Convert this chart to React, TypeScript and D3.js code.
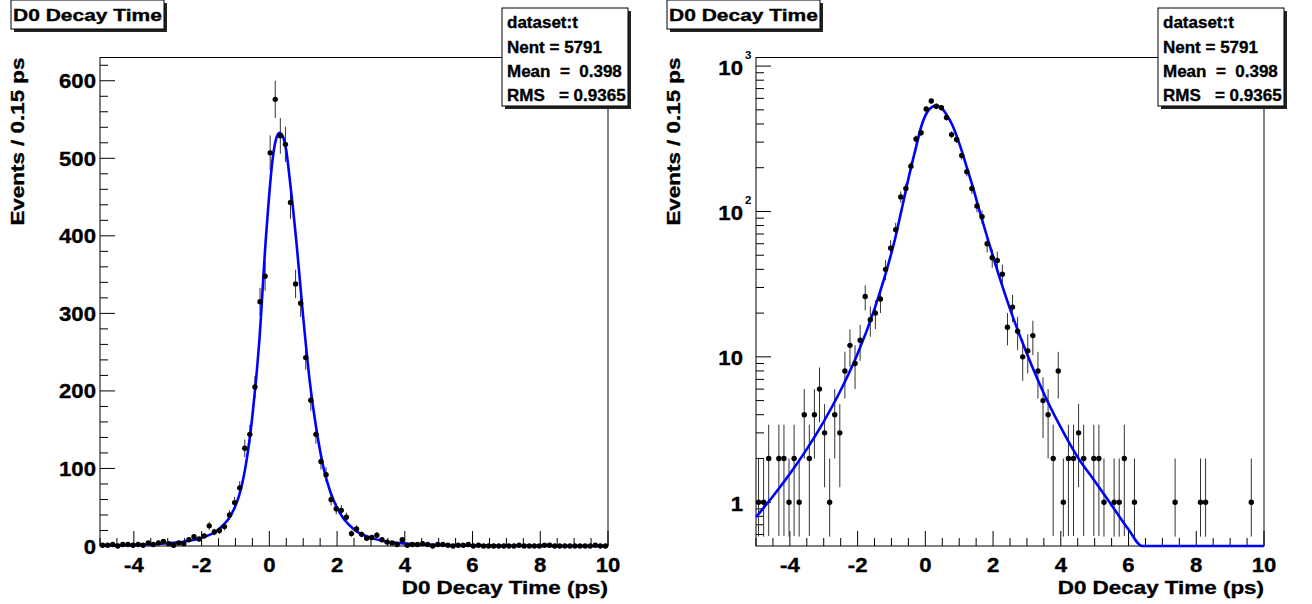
import React from 'react';
import * as d3 from 'd3';

// ---- data ----
const binLow = -5;
const binWidth = 0.15;
const counts = [
  1, 1, 2, 0, 2, 2, 1, 2, 1, 4,
  2, 4, 6, 3, 1, 4, 3, 8, 12, 9,
  13, 26, 18, 20, 25, 40, 56, 75, 126, 144,
  205, 315, 348, 507, 576, 529, 518, 443, 338, 313,
  243, 188, 144, 109, 92, 60, 48, 46, 37, 16,
  22, 15, 10, 11, 14, 8, 5, 4, 2, 8,
  1, 2, 2, 3, 2, 0, 2, 2, 1, 0,
  1, 1, 2, 0, 1, 0, 0, 0, 0, 0,
  0, 0, 1, 0, 0, 0, 0, 1, 1, 0,
  0, 0, 0, 0, 0, 0, 0, 1, 0, 0,
];

// fit curve samples
const fitX = [-5, -4.5, -4, -3.5, -3, -2.5, -2, -1.5, -1, -0.9, -0.7, -0.5, -0.3, -0.1, 0.1, 0.2, 0.3, 0.4, 0.5, 0.6, 0.8, 1.0, 1.2, 1.4, 1.6, 1.8, 2.0, 2.2, 2.5, 3.0, 3.5, 4.0, 4.5, 5.0, 5.5, 6.0, 6.4, 7, 8, 9, 10];
const fitY = [0.79, 1.10, 1.57, 2.32, 3.59, 5.89, 10.5, 21.4, 52, 64, 103, 168, 262, 398, 500, 525, 533, 528, 510, 474, 392, 295, 210, 148, 101, 70, 49, 34.7, 21.4, 10.5, 5.6, 3.27, 2.04, 1.4, 0.955, 0.65, 0.48, 0.31, 0.14, 0.067, 0.03];

const xMajorTicks = [-4, -2, 0, 2, 4, 6, 8, 10];
const linMajorTicks = [0, 100, 200, 300, 400, 500, 600];
const logMajorTicks = [1, 10, 100, 1000];

const titleText = 'D0 Decay Time';
const xTitle = 'D0 Decay Time (ps)';
const yTitle = 'Events / 0.15 ps';
const statsLines = ['dataset:t', 'Nent = 5791', 'Mean  =  0.398', 'RMS   = 0.9365'];

const FONT = "'Liberation Sans', Arial, Helvetica, sans-serif";

type PanelProps = { ox: number; log: boolean };

function Panel({ ox, log }: PanelProps) {
  const left = ox + 100;
  const right = ox + 608;
  const top = 57.5;
  const bottom = 546;

  const x = d3.scaleLinear().domain([-5, 10]).range([left, right]);
  const y: any = log
    ? d3.scaleLog().domain([0.5, 1146]).range([bottom, top])
    : d3.scaleLinear().domain([0, 630]).range([bottom, top]);
  const cy = (v: number) => y(Math.max(v, log ? 0.5 : 0));

  const bins = counts.map((c, i) => ({ xc: binLow + (i + 0.5) * binWidth, c }));
  const shown = log ? bins.filter((b) => b.c > 0) : bins;

  const fitPts = fitX.map((xv, i) => [xv, fitY[i]] as [number, number]);
  const line = d3
    .line<[number, number]>()
    .x((d) => x(d[0]))
    .y((d) => cy(d[1]))
    .curve(d3.curveMonotoneX);

  const xMinor = d3.range(-5, 10.001, 0.5).filter((v) => !xMajorTicks.some((m) => Math.abs(m - v) < 1e-6));

  let yMinor: number[] = [];
  if (log) {
    [0.1, 1, 10, 100].forEach((dec) => {
      for (let k = 2; k <= 9; k++) {
        const v = k * dec;
        if (v > 0.5 && v < 1146) yMinor.push(v);
      }
    });
  } else {
    yMinor = d3.range(20, 630, 20).filter((v) => v % 100 !== 0);
  }

  const tickLabelStyle = { fontFamily: FONT, fontWeight: 'bold' as const, fontSize: 20.5 };
  const thick = { stroke: 'black', strokeWidth: 0.35 };

  return (
    <g>
      {/* frame */}
      <rect x={left} y={top} width={right - left} height={bottom - top} fill="white" stroke="black" strokeWidth={1} />

      {/* x ticks */}
      {xMajorTicks.map((t) => (
        <line key={'xM' + t} x1={x(t)} x2={x(t)} y1={bottom} y2={bottom - 15} stroke="black" strokeWidth={1} />
      ))}
      {xMinor.map((t) => (
        <line key={'xm' + t} x1={x(t)} x2={x(t)} y1={bottom} y2={bottom - 8} stroke="black" strokeWidth={1} />
      ))}
      {xMajorTicks.map((t) => (
        <text
          key={'xl' + t}
          transform={`translate(${x(t)},572) scale(1.08,1)`}
          textAnchor="middle"
          style={tickLabelStyle}
          {...thick}
        >
          {String(t)}
        </text>
      ))}

      {/* y ticks */}
      {(log ? logMajorTicks : linMajorTicks).map((t) => (
        <line key={'yM' + t} x1={left} x2={left + 15} y1={y(t)} y2={y(t)} stroke="black" strokeWidth={1} />
      ))}
      {yMinor.map((t) => (
        <line key={'ym' + t} x1={left} x2={left + 8} y1={y(t)} y2={y(t)} stroke="black" strokeWidth={1} />
      ))}
      {!log &&
        linMajorTicks.map((t) => (
          <text
            key={'yl' + t}
            transform={`translate(${left - 4},${y(t) + 7.5}) scale(1.08,1)`}
            textAnchor="end"
            style={tickLabelStyle}
            {...thick}
          >
            {String(t)}
          </text>
        ))}
      {log &&
        logMajorTicks.map((t, i) => (
          <g key={'yl' + t}>
            <text
              transform={`translate(${left - 13},${y(t) + 8.5}) scale(1.08,1)`}
              textAnchor="end"
              style={tickLabelStyle}
              {...thick}
            >
              {i === 0 ? '1' : '10'}
            </text>
            {i >= 2 && (
              <text
                x={left - 11}
                y={y(t) - 7}
                style={{ fontFamily: FONT, fontWeight: 'bold', fontSize: 11.5 }}
              >
                {String(i)}
              </text>
            )}
          </g>
        ))}

      {/* error bars */}
      {shown.map((b, i) => {
        const e = Math.sqrt(b.c);
        const lo = log ? Math.max(b.c - e, 0.58) : Math.max(b.c - e, 0);
        const hi = b.c + e;
        return (
          <line
            key={'e' + i}
            x1={x(b.xc)}
            x2={x(b.xc)}
            y1={cy(lo)}
            y2={cy(hi)}
            stroke="#333"
            strokeWidth={1}
          />
        );
      })}

      {/* fit curve */}
      <path d={line(fitPts) || ''} fill="none" stroke="#0000ff" strokeWidth={2.6} />

      {/* markers */}
      {shown.map((b, i) => (
        <circle key={'m' + i} cx={x(b.xc)} cy={cy(b.c)} r={2.7} fill="black" />
      ))}

      {/* axis titles */}
      <text
        transform={`translate(${right},594) scale(1.18,1)`}
        textAnchor="end"
        style={{ fontFamily: FONT, fontWeight: 'bold', fontSize: 19 }}
        {...thick}
      >
        {xTitle}
      </text>
      <text
        transform={`translate(${ox + 24},${top}) rotate(-90) scale(1.18,1)`}
        textAnchor="end"
        style={{ fontFamily: FONT, fontWeight: 'bold', fontSize: 19 }}
        {...thick}
      >
        {yTitle}
      </text>

      {/* title box */}
      <rect x={ox + 14} y={3} width={153} height={29} fill="#222" />
      <rect x={ox + 11} y={0} width={153} height={29} fill="white" stroke="black" strokeWidth={1} />
      <text
        transform={`translate(${ox + 13},21) scale(1.25,1)`}
        style={{ fontFamily: FONT, fontWeight: 'bold', fontSize: 16.8 }}
        {...thick}
      >
        {titleText}
      </text>

      {/* stats box */}
      <rect x={ox + 505} y={11} width={126} height={98} fill="#222" />
      <rect x={ox + 502} y={8} width={126} height={98} fill="white" stroke="black" strokeWidth={1} />
      {statsLines.map((s, i) => (
        <text
          key={'s' + i}
          x={ox + 507}
          y={28.3 + i * 24.3}
          style={{ fontFamily: FONT, fontWeight: 'bold', fontSize: 17, whiteSpace: 'pre' }}
          xmlSpace="preserve"
          {...thick}
        >
          {s}
        </text>
      ))}
    </g>
  );
}

export default function App() {
  return (
    <svg
      width={1312}
      height={604}
      viewBox="0 0 1312 604"
      style={{ position: 'absolute', left: 0, top: 0, background: 'white' }}
    >
      <rect x={0} y={0} width={1312} height={604} fill="white" />
      <Panel ox={0} log={false} />
      <Panel ox={656} log={true} />
    </svg>
  );
}
